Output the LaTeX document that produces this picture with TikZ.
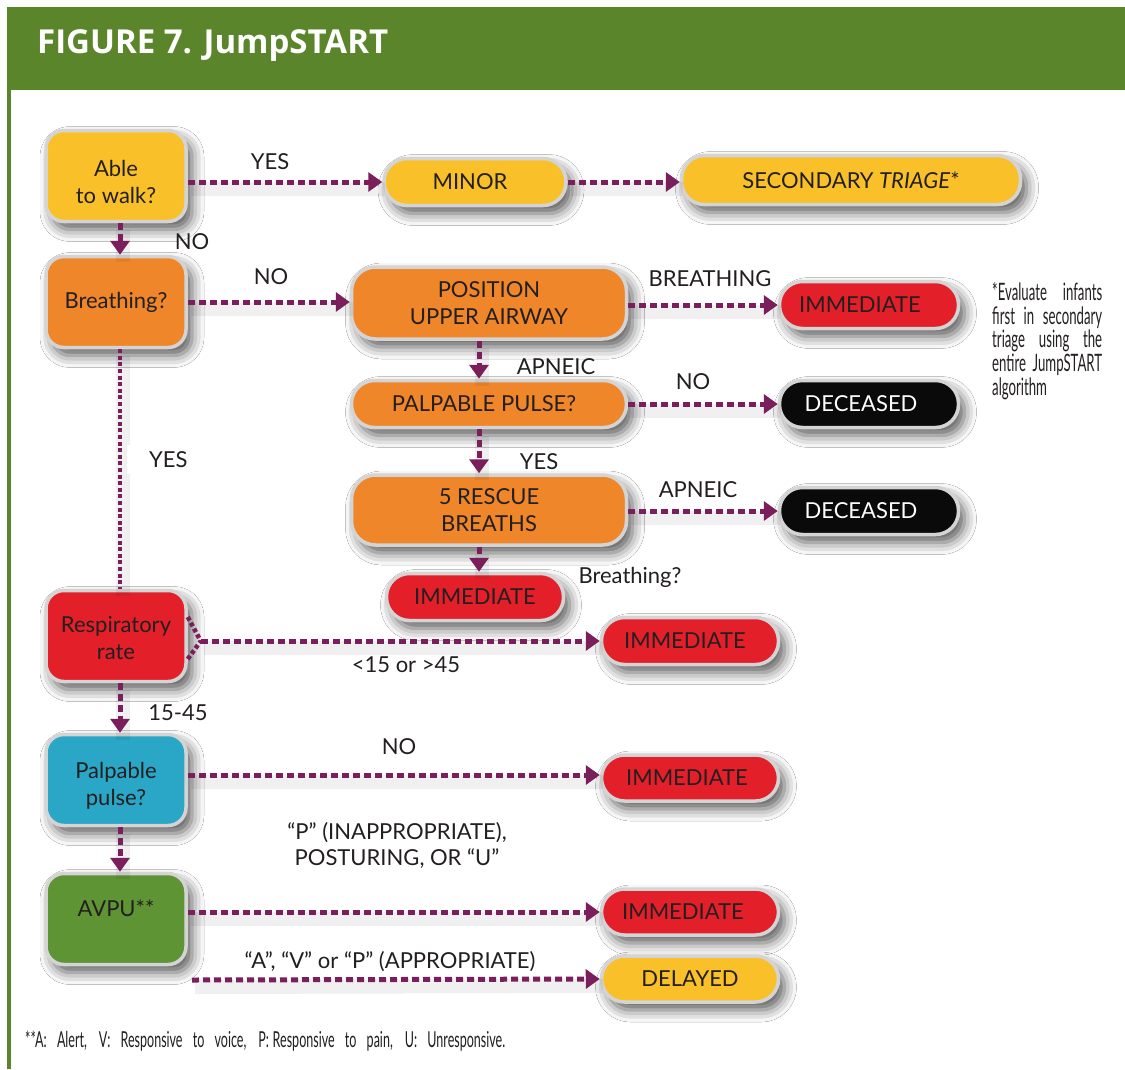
\documentclass[tikz,border=0pt]{standalone}
\usepackage{fontspec}
\setmainfont{Lato}
\newfontfamily\titlefont{Open Sans}
\newfontfamily\notefont[FakeStretch=0.55]{Lato}
\newfontfamily\footfont[FakeStretch=0.57]{Lato}
\usetikzlibrary{arrows.meta,shadows.blur}
\definecolor{hdr}{HTML}{5A852A}
\definecolor{ink}{HTML}{231F20}
\definecolor{plum}{HTML}{7A1E5C}
\definecolor{bord}{HTML}{D4D4D4}
\definecolor{cyel}{HTML}{F9C02A}
\definecolor{cora}{HTML}{F0862A}
\definecolor{cred}{HTML}{E3202A}
\definecolor{cblu}{HTML}{2AA7C6}
\definecolor{cgrn}{HTML}{5E9434}
\definecolor{cblk}{HTML}{0A0A0A}
\newcommand\jsfont{\fontsize{22}{27}\selectfont}
\newcommand\lowstrut{\rule{0pt}{28pt}}
\begin{document}
\begin{tikzpicture}[x=1pt,y=-1pt,
  shad/.style={blur shadow={shadow xshift=6pt,shadow yshift=-8pt,shadow blur radius=12pt,shadow opacity=65}},
  base/.style={shad,draw=bord,line width=3.5pt,align=center,font=\jsfont,text=ink,inner sep=2pt},
  sq/.style={base,rounded corners=18pt,minimum width=140pt,minimum height=91pt},
  pill/.style={base,rounded corners=23pt,minimum height=47pt},
  lbl/.style={font=\jsfont,text=ink,inner sep=1pt},
  lshad/.style={preaction={draw=black,draw opacity=0.06,line width=14pt,solid,-,transform canvas={xshift=3pt,yshift=-7pt}}},
  conn/.style={lshad,draw=plum,line width=5pt,dash pattern=on 7pt off 4pt,-{Triangle[length=14pt,width=19pt]}},
  dotl/.style={draw=plum,line width=4pt,dash pattern=on 4pt off 2.6pt}
]
\useasboundingbox (0,0) rectangle (1125,1069);
\fill[white] (0,0) rectangle (1125,1069);
% header
\fill[hdr] (7,7) rectangle (1125,90);
\fill[hdr] (7,90) rectangle (11,1069);
\node[anchor=base west,text=white,font=\titlefont\bfseries\fontsize{33}{38}\selectfont,inner sep=0pt] (title) at (37,53) {FIGURE 7. JumpSTART};

% nodes
\node[sq,fill=cyel] (walk) at (116,176) {\lowstrut Able\\to walk?};
\node[pill,fill=cyel,minimum width=182pt] (minor) at (475,182) {MINOR\hspace*{10pt}};
\node[pill,fill=cyel,minimum width=339pt,minimum height=49pt] (sec) at (851,180) {SECONDARY \textit{TRIAGE}*};
\node[sq,fill=cora] (breath) at (116,302) {\raisebox{-2pt}{Breathing?}};
\node[base,fill=cora,rounded corners=24pt,minimum width=275pt,minimum height=72pt] (pos) at (489,303) {POSITION\\UPPER AIRWAY};
\node[pill,fill=cred,minimum width=179pt] (imm1) at (869,305) {IMMEDIATE\hspace*{18pt}};
\node[pill,fill=cora,minimum width=275pt] (palp) at (489,404) {PALPABLE PULSE?\hspace*{10pt}};
\node[pill,fill=cblk,text=white,minimum width=179pt] (dec1) at (869,404) {DECEASED\hspace*{16pt}};
\node[base,fill=cora,rounded corners=24pt,minimum width=275pt,minimum height=70pt] (resc) at (489,510) {5 RESCUE\\BREATHS};
\node[pill,fill=cblk,text=white,minimum width=179pt] (dec2) at (869,511) {DECEASED\hspace*{16pt}};
\node[pill,fill=cred,minimum width=177pt] (imm2) at (475,597) {IMMEDIATE};
\node[sq,fill=cred] (resp) at (116,636) {\rule{0pt}{20pt}Respiratory\\rate};
\node[pill,fill=cred,minimum width=177pt] (imm3) at (690,641) {IMMEDIATE\hspace*{10pt}};
\node[sq,fill=cblu] (pulse) at (116,780) {\lowstrut Palpable\\pulse?};
\node[pill,fill=cred,minimum width=177pt,minimum height=46pt] (imm4) at (690,778) {IMMEDIATE\hspace*{6pt}};
\node[sq,fill=cgrn] (avpu) at (116,919) {\raisebox{3pt}[0pt][0pt]{AVPU**}};
\node[pill,fill=cred,minimum width=177pt,minimum height=46pt] (imm5) at (690,912) {IMMEDIATE\hspace*{14pt}};
\node[pill,fill=cyel,minimum width=177pt,minimum height=46pt] (del) at (690,979) {DELAYED};

% connectors
\draw[conn] (walk.east |- minor) -- (minor.west);
\draw[conn] (minor) -- (sec.west |- minor);
\draw[conn] ([xshift=4pt]walk.south) -- ([xshift=4pt]breath.north);
\draw[conn] (breath.east) -- (pos.west |- breath);
\draw[conn] (pos.east |- imm1) -- (imm1.west);
\draw[conn] ([xshift=-10pt]pos.south) -- ([xshift=-10pt]palp.north);
\draw[conn] (palp.east) -- (dec1.west);
\draw[conn] ([xshift=-10pt]palp.south) -- ([xshift=-10pt]resc.north);
\draw[conn] (resc.east |- dec2) -- (dec2.west);
\draw[conn] ([xshift=-10pt]resc.south) -- ([xshift=-10pt]resc.south |- imm2.north);
\draw[lshad,dotl] ([xshift=4pt]breath.south) -- ([xshift=4pt]resp.north);
\coordinate (r1) at ([yshift=19pt]resp.east);
\coordinate (r2) at ([yshift=-23pt]resp.east);
\coordinate (rj) at ([xshift=13pt]resp.east |- imm3);
\draw[dotl,line width=4.5pt] (r1) -- (rj);
\draw[dotl,line width=4.5pt] (r2) -- (rj);
\draw[conn] (rj) -- (imm3.west);
\draw[conn] ([xshift=4pt]resp.south) -- ([xshift=4pt]pulse.north);
\draw[conn] (pulse.east |- 0,775) -- (imm4.west |- 0,775);
\draw[conn] ([xshift=4pt]pulse.south) -- ([xshift=4pt]avpu.north);
\draw[conn] (avpu.east |- imm5) -- (imm5.west);
\coordinate (avd) at (192,980);
\draw[conn] (avd) -- (del.west);

% labels
\node[lbl] (l1) at (270,162) {YES};
\node[lbl] (l2) at (192,242) {NO};
\node[lbl] (l3) at (271,277) {NO};
\node[lbl] (l4) at (710,279) {BREATHING};
\node[lbl] (l5) at (556,367) {APNEIC};
\node[lbl] (l6) at (693,382) {NO};
\node[lbl] (l7) at (539,462) {YES};
\node[lbl] (l8) at (698,490) {APNEIC};
\node[lbl] (l9) at (630,577) {Breathing?};
\node[lbl,fill=white,minimum width=63pt,minimum height=29pt,text width=58pt,align=right] (l10) at (158.5,459.5) {YES};
\node[lbl] (l11) at (406,665) {<15 or >45};
\node[lbl] (l12) at (178,713) {15-45};
\node[lbl] (l13) at (399,747) {NO};
\node[lbl,align=center,font=\fontsize{22}{26}\selectfont] (l14) at (397,845) {“P” (INAPPROPRIATE),\\POSTURING, OR “U”};
\node[lbl] (l15) at (390,962) {“A”, “V” or “P” (APPROPRIATE)};

% notes
\node[anchor=north west,inner sep=0pt,align=left,text=ink,font=\notefont\fontsize{24}{23.8}\selectfont] (note) at (992,282)
 {\makebox[110pt][s]{*Evaluate infants}\\\makebox[110pt][s]{first in secondary}\\\makebox[110pt][s]{triage using the}\\\makebox[110pt][s]{entire JumpSTART}\\algorithm};
\node[anchor=base west,inner sep=0pt,text=ink,font=\footfont\fontsize{22}{24}\selectfont] (foot) at (25,1047)
 {\makebox[480pt][s]{**A: Alert, V: Responsive to voice, P:\,Responsive to pain, U: Unresponsive.}};
\end{tikzpicture}
\end{document}
